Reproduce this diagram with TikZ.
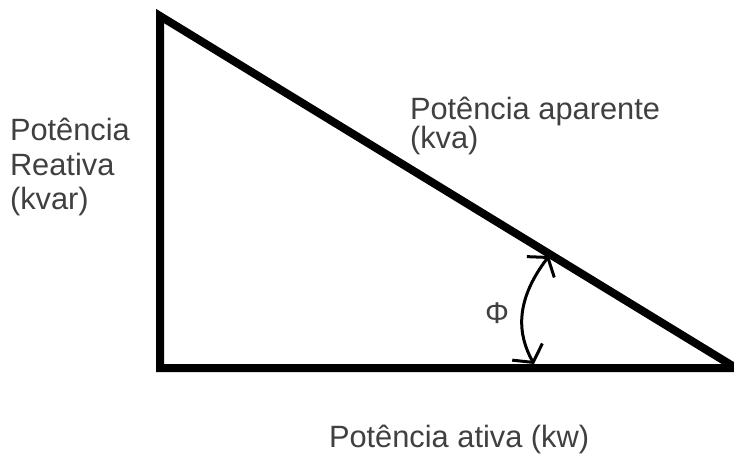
\documentclass[tikz,border=0pt]{standalone}
\usepackage{fontspec}
\setmainfont{Liberation Sans}
\usetikzlibrary{arrows.meta}
\definecolor{txtgray}{HTML}{404040}
\tikzset{
  lbl/.style={anchor=base west, inner sep=0pt, outer sep=0pt, text=txtgray,
    font=\fontsize{30.8pt}{36pt}\selectfont},
  side/.style={line width=8pt, line join=miter, draw=black},
  barbtip/.tip={Straight Barb[angle=110:21pt,line width=3pt]},
  anglearc/.style={line width=3pt, draw=black, barbtip-barbtip},
}
\begin{document}
\begin{tikzpicture}[x=1pt,y=-1pt]
\useasboundingbox (0,0) rectangle (734,453);
\coordinate (A) at (160,16);
\coordinate (B) at (160,368);
\coordinate (C) at (736,368);
\draw[side] (A) -- (B) -- (C) -- cycle;
\coordinate (P1) at (549,256);
\coordinate (P2) at (534,364);
\draw[anglearc] (P1) .. controls (514,302) and (518,335) .. (P2);
\node[lbl] (top1) at (410,119) {Potência aparente};
\node[lbl] (top2) at (410,148) {(kva)};
\node[lbl] (left1) at (10,140) {Potência};
\node[lbl] (left2) at (10,175) {Reativa};
\node[lbl] (left3) at (10,209) {(kvar)};
\node[lbl] (bottom) at (329,447) {Potência ativa (kw)};
\node[text=txtgray, inner sep=0pt, font=\fontsize{30pt}{34pt}\selectfont] (phi) at (497,313) {Φ};
\end{tikzpicture}
\end{document}
